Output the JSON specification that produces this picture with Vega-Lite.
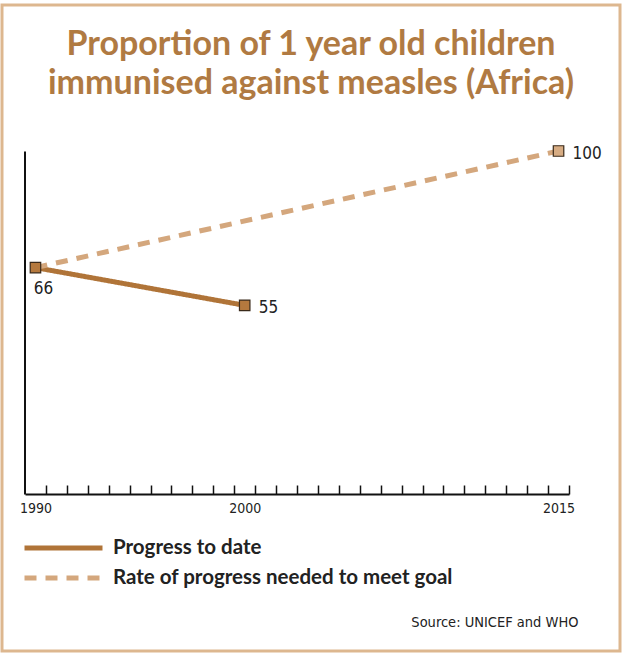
{
  "$schema": "https://vega.github.io/schema/vega-lite/v6.json",
  "width": 618,
  "height": 646,
  "autosize": {"type": "none"},
  "padding": {"left": 2, "top": 5, "right": 2, "bottom": 3},
  "background": "white",
  "config": {
    "view": {"stroke": "#DDB78F", "strokeWidth": 3, "fill": "white"},
    "font": "Lato"
  },
  "title": {
    "text": ["Proportion of 1 year old children", "immunised against measles (Africa)"],
    "font": "Lato",
    "fontSize": 34,
    "fontWeight": "bold",
    "color": "#B07A42",
    "anchor": "middle",
    "frame": "group",
    "baseline": "alphabetic",
    "lineHeight": 39,
    "offset": -123
  },
  "data": {
    "values": [
      {"year": 1990, "value": 66, "series": "Progress to date"},
      {"year": 2000, "value": 55, "series": "Progress to date"},
      {"year": 1990, "value": 66, "series": "Rate of progress needed to meet goal"},
      {"year": 2015, "value": 100, "series": "Rate of progress needed to meet goal"}
    ]
  },
  "encoding": {
    "x": {
      "field": "year",
      "type": "quantitative",
      "scale": {"domain": [1989.5, 2015.5], "range": [23, 567], "nice": false, "zero": false},
      "axis": {
        "values": [1990,1991,1992,1993,1994,1995,1996,1997,1998,1999,2000,2001,2002,2003,2004,2005,2006,2007,2008,2009,2010,2011,2012,2013,2014,2015],
        "format": "d",
        "labelExpr": "datum.value == 1990 || datum.value == 2000 || datum.value == 2015 ? datum.label : ''",
        "offset": -157,
        "domainColor": "#111111",
        "domainWidth": 2,
        "tickColor": "#111111",
        "tickWidth": 1.5,
        "tickSize": -9,
        "tickOffset": 10.46,
        "labelOffset": -10.46,
        "labelPadding": 16,
        "labelFont": "DejaVu Sans Condensed, Roboto",
        "labelFontSize": 14,
        "labelColor": "#222222",
        "labelFlush": false,
        "labelOverlap": false,
        "grid": false,
        "title": "Source: UNICEF and WHO",
        "titleFont": "DejaVu Sans Condensed, Roboto",
        "titleFontSize": 14.5,
        "titleFontWeight": "normal",
        "titleColor": "#222222",
        "titleX": 576,
        "titleY": 132,
        "titleAlign": "right",
        "titleBaseline": "alphabetic"
      }
    },
    "y": {
      "field": "value",
      "type": "quantitative",
      "scale": {"domain": [0, 100], "range": [489, 146], "nice": false, "zero": false},
      "axis": {
        "offset": -22.5,
        "domainColor": "#111111",
        "domainWidth": 2,
        "ticks": false,
        "labels": false,
        "grid": false,
        "title": null
      }
    }
  },
  "layer": [
    {
      "mark": {"type": "line", "strokeWidth": 5, "strokeCap": "butt"},
      "encoding": {
        "color": {
          "field": "series",
          "type": "nominal",
          "scale": {
            "domain": ["Progress to date", "Rate of progress needed to meet goal"],
            "range": ["#B07438", "#D4A77D"]
          },
          "legend": {
            "orient": "none",
            "legendX": 20,
            "legendY": 533,
            "title": null,
            "symbolType": "stroke",
            "symbolSize": 6084,
            "symbolStrokeWidth": 5,
            "clipHeight": 20,
            "rowPadding": 9,
            "padding": 0,
            "labelFont": "Lato",
            "labelFontSize": 20.5,
            "labelFontWeight": "bold",
            "labelColor": "#222222",
            "labelOffset": 8,
            "labelLimit": 600
          }
        },
        "strokeDash": {
          "field": "series",
          "type": "nominal",
          "scale": {
            "domain": ["Progress to date", "Rate of progress needed to meet goal"],
            "range": [[1, 0], [12, 9]]
          },
          "legend": {
            "orient": "none",
            "legendX": 20,
            "legendY": 533,
            "title": null,
            "symbolType": "stroke",
            "symbolSize": 6084,
            "symbolStrokeWidth": 5,
            "clipHeight": 20,
            "rowPadding": 9,
            "padding": 0,
            "labelFont": "Lato",
            "labelFontSize": 20.5,
            "labelFontWeight": "bold",
            "labelColor": "#222222",
            "labelOffset": 8,
            "labelLimit": 600
          }
        }
      }
    },
    {
      "transform": [{"filter": "!(datum.series == 'Rate of progress needed to meet goal' && datum.year == 1990)"}],
      "mark": {"type": "point", "shape": "square", "filled": true, "size": 110, "stroke": "#3A2A1A", "strokeWidth": 1.2, "opacity": 1},
      "encoding": {
        "fill": {
          "field": "series",
          "type": "nominal",
          "scale": {
            "domain": ["Progress to date", "Rate of progress needed to meet goal"],
            "range": ["#B5793E", "#D7AC83"]
          },
          "legend": null
        }
      }
    },
    {
      "transform": [{"filter": "datum.year == 1990 && datum.series == 'Progress to date'"}],
      "mark": {"type": "text", "font": "DejaVu Sans Condensed, Roboto", "fontSize": 17, "color": "#222222", "align": "center", "baseline": "middle", "dx": 8, "dy": 21},
      "encoding": {"text": {"field": "value", "type": "quantitative"}}
    },
    {
      "transform": [{"filter": "datum.year != 1990"}],
      "mark": {"type": "text", "font": "DejaVu Sans Condensed, Roboto", "fontSize": 17, "color": "#222222", "align": "left", "baseline": "middle", "dx": 14, "dy": 3},
      "encoding": {"text": {"field": "value", "type": "quantitative"}}
    }
  ]
}
